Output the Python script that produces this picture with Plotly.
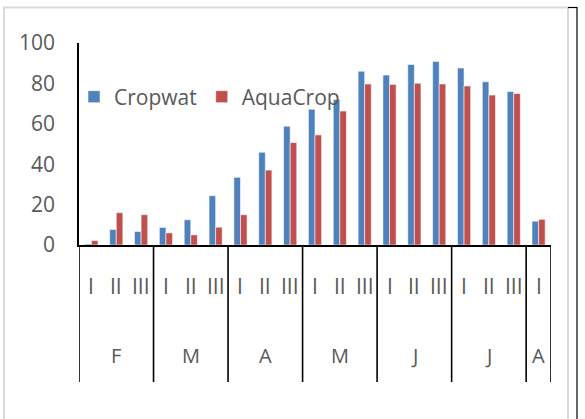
import plotly.graph_objects as go

months = ["F", "M", "A", "M", "J", "J", "A"]
decades_per_month = [3, 3, 3, 3, 3, 3, 1]
decade_names = ["I", "II", "III"]
cropwat = [0.5, 7.7, 6.7, 8.7, 12.5, 24.4, 33.5, 45.9, 58.8, 67.2, 72.0, 86.0, 84.1, 89.4, 90.9, 87.6, 80.8, 76.0, 11.8]
aquacrop = [2.2, 16.0, 15.0, 6.0, 5.0, 8.8, 15.0, 37.1, 50.7, 54.5, 66.3, 79.7, 79.5, 80.1, 79.7, 78.7, 74.2, 75.0, 12.7]
y_ticks = [0, 20, 40, 60, 80, 100]

W, H = 585, 419
L, R, T, B = 79, 34, 43, 174
PW, PH = W - L - R, H - T - B

def px_x(px):
    return (px - L) / PW

def px_y(py):
    return (H - B - py) / PH

decade_labels = []
month_start = []
month_end = []
idx = 0
for n in decades_per_month:
    month_start.append(idx)
    for k in range(n):
        decade_labels.append(decade_names[k])
    idx += n
    month_end.append(idx)
xs = list(range(len(decade_labels)))

TXT = "#595959"
FONT = "Open Sans"
FS = 21

fig = go.Figure()
fig.add_trace(go.Bar(x=xs, y=cropwat, name="Cropwat", marker_color="#4F81BD",
                     marker_line=dict(color="rgba(255,255,255,0.7)", width=0.8)))
fig.add_trace(go.Bar(x=xs, y=aquacrop, name="AquaCrop", marker_color="#C0504D",
                     marker_line=dict(color="rgba(255,255,255,0.7)", width=0.8)))

annotations = []
for i, lab in enumerate(decade_labels):
    annotations.append(dict(x=i, y=0, xref="x", yref="paper", text=lab, showarrow=False,
                            yshift=-41, yanchor="middle", font=dict(family=FONT, size=FS, color=TXT)))
for m, s, e in zip(months, month_start, month_end):
    annotations.append(dict(x=(s + e - 1) / 2, y=0, xref="x", yref="paper", text=m, showarrow=False,
                            yshift=-110, yanchor="middle", font=dict(family=FONT, size=FS - 1, color=TXT)))

shapes = []
bottom = px_y(382)
bounds = [month_start[0]] + month_end
for b in bounds:
    shapes.append(dict(type="line", xref="x", yref="paper", x0=b - 0.5, x1=b - 0.5, y0=0, y1=bottom,
                       line=dict(color="black", width=1.6)))
# chart-area frame
shapes.append(dict(type="rect", xref="paper", yref="paper", x0=px_x(4), x1=px_x(568), y0=px_y(7.5), y1=px_y(430),
                   line=dict(color="#D9D9D9", width=2), layer="below"))
shapes.append(dict(type="line", xref="paper", yref="paper", x0=px_x(577), x1=px_x(577), y0=px_y(7), y1=px_y(430),
                   line=dict(color="black", width=1.2)))
shapes.append(dict(type="line", xref="paper", yref="paper", x0=px_x(568), x1=px_x(577), y0=px_y(7.5), y1=px_y(7.5),
                   line=dict(color="black", width=1.2)))

fig.update_layout(
    width=W, height=H,
    margin=dict(l=L, r=R, t=T, b=B),
    paper_bgcolor="white", plot_bgcolor="white",
    barmode="group", bargap=0.47, bargroupgap=0,
    font=dict(family=FONT, size=FS, color=TXT),
    showlegend=True,
    legend=dict(orientation="h", x=px_x(74), y=px_y(97), xanchor="left", yanchor="middle",
                font=dict(family=FONT, size=FS, color=TXT), bgcolor="rgba(0,0,0,0)", itemwidth=30,
                tracegroupgap=0),
    xaxis=dict(range=[-0.5, len(xs) - 0.5], showticklabels=False, ticks="", showgrid=False,
               showline=True, linecolor="black", linewidth=2, zeroline=False, fixedrange=True),
    yaxis=dict(range=[0, 100], tickvals=y_ticks, showgrid=False, showline=True, linecolor="black",
               linewidth=1.6, ticks="", ticklabelstandoff=18, zeroline=False,
               tickfont=dict(family=FONT, size=FS, color=TXT)),
    annotations=annotations,
    shapes=shapes,
)

fig.write_html("out.html")
